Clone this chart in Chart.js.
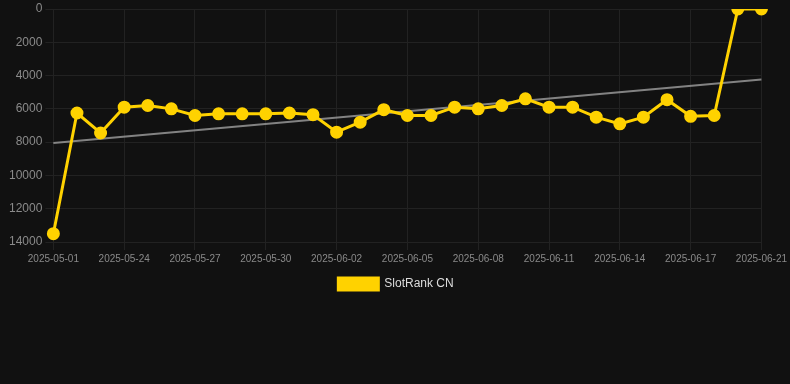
<!DOCTYPE html>
<html lang="en">
<head>
<meta charset="UTF-8">
<style>
body {
    margin: 0;
    background-color: #111111;
}

.chart-container {
    width: 790px;
    height: 384px;
}
</style>
</head>
<body>
<div class="chart-container">
<canvas id="rankChart"></canvas>
</div>
<script src="https://cdn.jsdelivr.net/npm/chart.js"></script>
<script>
const dates = [
    '2025-05-01', '2025-05-22', '2025-05-23', '2025-05-24', '2025-05-25', '2025-05-26',
    '2025-05-27', '2025-05-28', '2025-05-29', '2025-05-30', '2025-05-31', '2025-06-01',
    '2025-06-02', '2025-06-03', '2025-06-04', '2025-06-05', '2025-06-06', '2025-06-07',
    '2025-06-08', '2025-06-09', '2025-06-10', '2025-06-11', '2025-06-12', '2025-06-13',
    '2025-06-14', '2025-06-15', '2025-06-16', '2025-06-17', '2025-06-18', '2025-06-19',
    '2025-06-21'
];
const rankValues = [
    13500, 6250, 7450, 5900, 5800, 6000,
    6400, 6300, 6300, 6300, 6250, 6350,
    7400, 6800, 6050, 6400, 6400, 5900,
    6000, 5800, 5400, 5900, 5900, 6500,
    6900, 6500, 5450, 6450, 6400, 0,
    0
];
const trendValues = [8050, null, null, null, null, null, null, null, null, null, null, null, null, null, null, null,
    null, null, null, null, null, null, null, null, null, null, null, null, null, null, 4230];
const yTicks = [0, 2000, 4000, 6000, 8000, 10000, 12000, 14000];

const ctx = document.getElementById('rankChart').getContext('2d');
const rankChart = new Chart(ctx, {
    type: 'line',
    data: {
        labels: dates,
        datasets: [{
            label: 'SlotRank CN',
            data: rankValues,
            borderColor: '#ffd200',
            backgroundColor: '#ffd200',
            borderWidth: 3,
            pointRadius: 5,
            pointHoverRadius: 6,
            tension: 0
        }, {
            label: 'Trend',
            data: trendValues,
            borderColor: 'rgba(150, 150, 150, 0.85)',
            borderWidth: 2,
            pointRadius: 0,
            spanGaps: true,
            tension: 0
        }]
    },
    options: {
        responsive: true,
        maintainAspectRatio: false,
        animation: false,
        layout: {
            padding: { top: 0, left: 6, right: 4, bottom: 84 }
        },
        scales: {
            y: {
                reverse: true,
                min: 0,
                max: 14000,
                afterBuildTicks: (axis) => {
                    axis.ticks = yTicks.map(v => ({ value: v }));
                },
                grid: { color: '#222222' },
                border: { color: '#222222' },
                ticks: {
                    color: '#8a8a8a',
                    font: { family: 'Arial, "Liberation Sans", sans-serif', size: 12, lineHeight: 0.3 },
                    callback: (value) => String(value)
                }
            },
            x: {
                grid: { color: '#222222' },
                border: { color: '#222222' },
                ticks: {
                    autoSkip: false,
                    maxRotation: 0,
                    color: '#8a8a8a',
                    font: { family: 'Arial, "Liberation Sans", sans-serif', size: 10 },
                    callback: function (value, index) {
                        return index % 3 === 0 ? this.getLabelForValue(value) : null;
                    }
                }
            }
        },
        plugins: {
            legend: {
                position: 'bottom',
                labels: {
                    color: '#dddddd',
                    boxWidth: 40,
                    font: { family: 'Arial, "Liberation Sans", sans-serif', size: 12 },
                    filter: (item) => item.datasetIndex === 0
                }
            },
            tooltip: { enabled: true }
        }
    }
});
</script>
</body>
</html>
